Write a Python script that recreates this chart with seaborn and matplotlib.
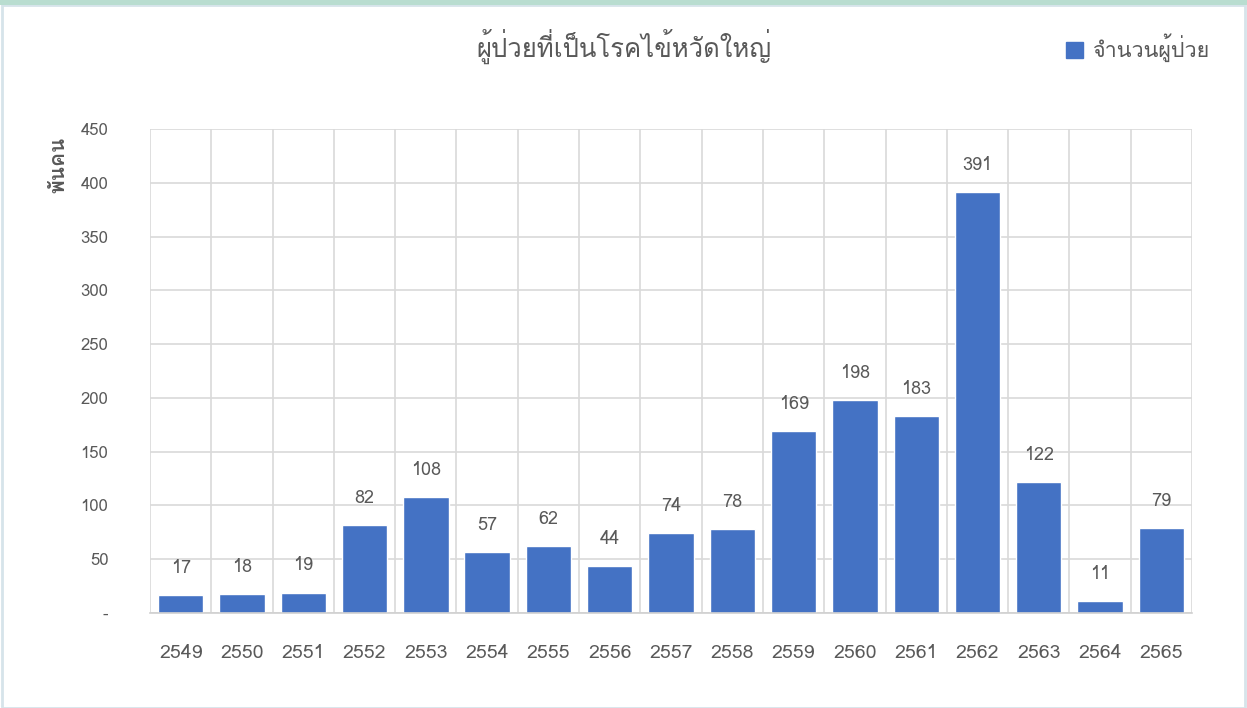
import matplotlib
matplotlib.use("Agg")
from matplotlib import pyplot as plt
from matplotlib import font_manager
from matplotlib.ft2font import FT2Font
from matplotlib.patches import Rectangle
import seaborn as sns
import pandas as pd

years = ['2549', '2550', '2551', '2552', '2553', '2554', '2555', '2556', '2557',
         '2558', '2559', '2560', '2561', '2562', '2563', '2564', '2565']
patients = [17, 18, 19, 82, 108, 57, 62, 44, 74, 78, 169, 198, 183, 391, 122, 11, 79]
y_ticks = [0, 50, 100, 150, 200, 250, 300, 350, 400, 450]
y_tick_labels = ['-', '50', '100', '150', '200', '250', '300', '350', '400', '450']
title = 'ผู้ป่วยที่เป็นโรคไข้หวัดใหญ่'
series_name = 'จำนวนผู้ป่วย'
y_label = 'พันคน'

# find a family that can draw Thai
thai_family = None
for f in font_manager.fontManager.ttflist:
    try:
        if ord('ผ') in FT2Font(f.fname).get_charmap():
            thai_family = f.name
            break
    except Exception:
        pass

sns.set_theme(style='white')
fams = [thai_family, 'DejaVu Sans'] if thai_family else ['DejaVu Sans']
plt.rcParams['font.family'] = fams

grey = '#595959'
bar_col = '#4472C4'
df = pd.DataFrame({'year': years, 'patients': patients})

fig = plt.figure(figsize=(12.47, 7.08), dpi=100)
ax = fig.add_axes([0.1203, 0.1342, 0.8356, 0.6836])
sns.barplot(data=df, x='year', y='patients', color=bar_col, width=0.74,
            saturation=1, ax=ax)

ax.set_ylim(0, 450)
ax.set_xlim(-0.5, len(years) - 0.5)
ax.set_yticks(y_ticks)
ax.set_yticklabels(y_tick_labels)
ax.set_xticks(range(len(years)), minor=False)
ax.set_xticks([i + 0.5 for i in range(-1, len(years))], minor=True)
ax.grid(True, axis='y', color='#d9d9d9', linewidth=1.2)
ax.grid(True, axis='x', which='minor', color='#d9d9d9', linewidth=1.2)
ax.grid(False, axis='x', which='major')
ax.set_axisbelow(True)
for s in ['top', 'right', 'left']:
    ax.spines[s].set_visible(False)
ax.spines['bottom'].set_color('#d0d0d0')
ax.spines['bottom'].set_linewidth(1.2)
ax.tick_params(axis='x', which='both', length=0, pad=22, labelsize=14, labelcolor=grey)
ax.tick_params(axis='y', length=0, pad=30, labelsize=12, labelcolor=grey)
ax.set_xlabel('')
ax.set_ylabel('')

ax.bar_label(ax.containers[0], labels=[str(v) for v in patients], padding=13,
             fontsize=13, color=grey)

fig.text(0.5, 0.935, title, ha='center', va='center', fontsize=18.5, color=grey)
fig.text(0.047, 0.767, y_label, ha='center', va='center', rotation=90,
         fontsize=15, fontweight='bold', color=grey)

leg = fig.legend(handles=[Rectangle((0, 0), 1, 1, color=bar_col)], labels=[series_name],
                 loc='center right', bbox_to_anchor=(0.986, 0.932), frameon=False,
                 fontsize=15.5, handlelength=0.8, handleheight=0.8, handletextpad=0.45)
for t in leg.get_texts():
    t.set_color(grey)

# thin frame round the picture
fig.patches.append(Rectangle((0.002, 0.0), 0.996, 0.993, transform=fig.transFigure,
                             fill=False, edgecolor='#d6e4ea', linewidth=2))
fig.patches.append(Rectangle((0.0, 0.993), 1.0, 0.007, transform=fig.transFigure,
                             color='#b9ddd0', linewidth=0))

fig.savefig('out.png', dpi=100)
